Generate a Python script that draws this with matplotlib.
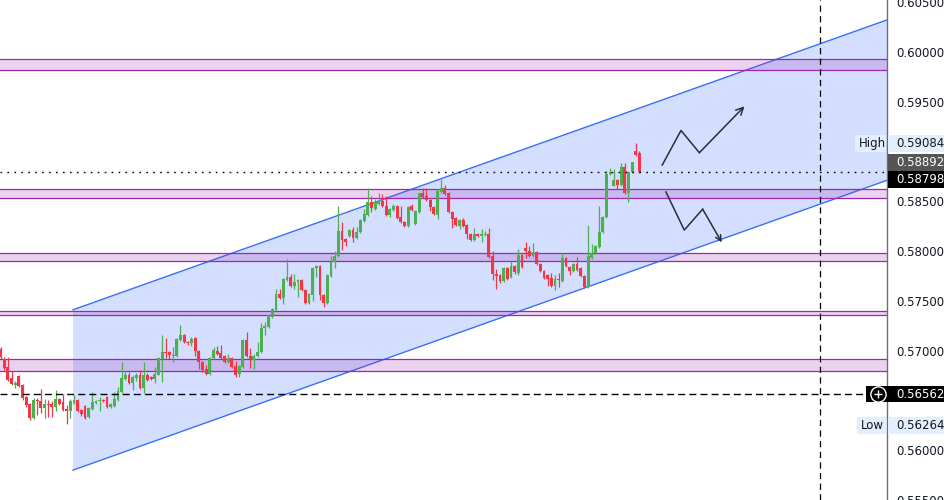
import matplotlib
matplotlib.use("Agg")
import matplotlib.pyplot as plt
import matplotlib.transforms as mtransforms
from matplotlib.patches import Rectangle, Polygon

# OHLC candles, left to right
OPEN = [
    0.5702, 0.5692, 0.5684, 0.5672, 0.5665, 0.5674, 0.5665, 0.5653, 0.5646, 0.5632,
    0.5650, 0.5649, 0.5642, 0.5646, 0.5646, 0.5643, 0.5651, 0.5648, 0.5641, 0.5639,
    0.5647, 0.5650, 0.5640, 0.5644, 0.5633, 0.5641, 0.5647, 0.5649, 0.5650, 0.5653,
    0.5643, 0.5644, 0.5650, 0.5658, 0.5671, 0.5675, 0.5667, 0.5672, 0.5675, 0.5662,
    0.5675, 0.5673, 0.5671, 0.5676, 0.5692, 0.5699, 0.5699, 0.5695, 0.5695, 0.5711,
    0.5716, 0.5709, 0.5708, 0.5713, 0.5700, 0.5689, 0.5682, 0.5677, 0.5693, 0.5700,
    0.5698, 0.5695, 0.5689, 0.5693, 0.5685, 0.5677, 0.5684, 0.5711, 0.5695, 0.5691,
    0.5695, 0.5699, 0.5723, 0.5724, 0.5734, 0.5741, 0.5757, 0.5753, 0.5771, 0.5774,
    0.5765, 0.5769, 0.5771, 0.5761, 0.5748, 0.5756, 0.5783, 0.5785, 0.5756, 0.5748,
    0.5775, 0.5789, 0.5795, 0.5820, 0.5812, 0.5815, 0.5821, 0.5813, 0.5819, 0.5830,
    0.5836, 0.5849, 0.5842, 0.5847, 0.5850, 0.5845, 0.5836, 0.5841, 0.5845, 0.5834,
    0.5829, 0.5825, 0.5845, 0.5827, 0.5839, 0.5858, 0.5855, 0.5851, 0.5844, 0.5836,
    0.5859, 0.5863, 0.5858, 0.5839, 0.5833, 0.5825, 0.5831, 0.5826, 0.5817, 0.5811,
    0.5817, 0.5815, 0.5816, 0.5817, 0.5795, 0.5777, 0.5776, 0.5770, 0.5783, 0.5774,
    0.5785, 0.5778, 0.5796, 0.5803, 0.5800, 0.5795, 0.5799, 0.5787, 0.5780, 0.5776,
    0.5773, 0.5765, 0.5772, 0.5770, 0.5793, 0.5784, 0.5780, 0.5787, 0.5783, 0.5775,
    0.5764, 0.5793, 0.5798, 0.5804, 0.5819, 0.5834, 0.5877, 0.5865, 0.5871, 0.5866,
    0.5884, 0.5858, 0.5879, 0.5900, 0.5898,
]
HIGH = [
    0.5704, 0.5694, 0.5694, 0.5680, 0.5669, 0.5675, 0.5666, 0.5654, 0.5647, 0.5652,
    0.5652, 0.5661, 0.5651, 0.5650, 0.5649, 0.5660, 0.5652, 0.5656, 0.5645, 0.5651,
    0.5655, 0.5651, 0.5641, 0.5645, 0.5643, 0.5658, 0.5650, 0.5653, 0.5651, 0.5654,
    0.5647, 0.5658, 0.5663, 0.5689, 0.5680, 0.5679, 0.5675, 0.5678, 0.5681, 0.5689,
    0.5678, 0.5674, 0.5684, 0.5694, 0.5716, 0.5713, 0.5700, 0.5704, 0.5713, 0.5726,
    0.5717, 0.5710, 0.5714, 0.5714, 0.5701, 0.5690, 0.5686, 0.5694, 0.5704, 0.5705,
    0.5706, 0.5696, 0.5697, 0.5694, 0.5690, 0.5686, 0.5712, 0.5719, 0.5703, 0.5697,
    0.5709, 0.5728, 0.5729, 0.5737, 0.5743, 0.5762, 0.5762, 0.5773, 0.5792, 0.5777,
    0.5777, 0.5772, 0.5772, 0.5762, 0.5758, 0.5784, 0.5786, 0.5786, 0.5757, 0.5777,
    0.5795, 0.5800, 0.5845, 0.5829, 0.5813, 0.5822, 0.5824, 0.5824, 0.5832, 0.5842,
    0.5863, 0.5855, 0.5852, 0.5858, 0.5857, 0.5855, 0.5843, 0.5847, 0.5846, 0.5845,
    0.5830, 0.5845, 0.5847, 0.5841, 0.5858, 0.5863, 0.5863, 0.5853, 0.5845, 0.5862,
    0.5872, 0.5866, 0.5859, 0.5840, 0.5834, 0.5832, 0.5833, 0.5827, 0.5818, 0.5823,
    0.5818, 0.5822, 0.5820, 0.5823, 0.5800, 0.5782, 0.5777, 0.5784, 0.5784, 0.5790,
    0.5786, 0.5802, 0.5797, 0.5809, 0.5805, 0.5808, 0.5800, 0.5788, 0.5781, 0.5777,
    0.5778, 0.5776, 0.5778, 0.5798, 0.5794, 0.5785, 0.5788, 0.5794, 0.5784, 0.5776,
    0.5826, 0.5807, 0.5806, 0.5845, 0.5835, 0.5880, 0.5883, 0.5882, 0.5872, 0.5888,
    0.5888, 0.5880, 0.5889, 0.59084, 0.5900,
]
LOW = [
    0.5692, 0.5681, 0.5669, 0.5665, 0.5662, 0.5663, 0.5650, 0.5643, 0.5630, 0.5631,
    0.5635, 0.5637, 0.5632, 0.5633, 0.5633, 0.5639, 0.5645, 0.5639, 0.56264, 0.5632,
    0.5646, 0.5638, 0.5634, 0.5631, 0.5632, 0.5640, 0.5646, 0.5639, 0.5648, 0.5642,
    0.5642, 0.5643, 0.5649, 0.5657, 0.5670, 0.5666, 0.5660, 0.5669, 0.5661, 0.5657,
    0.5669, 0.5670, 0.5667, 0.5675, 0.5668, 0.5693, 0.5692, 0.5689, 0.5694, 0.5710,
    0.5708, 0.5706, 0.5705, 0.5695, 0.5682, 0.5679, 0.5676, 0.5676, 0.5692, 0.5696,
    0.5692, 0.5688, 0.5688, 0.5683, 0.5673, 0.5673, 0.5683, 0.5694, 0.5683, 0.5682,
    0.5694, 0.5698, 0.5716, 0.5723, 0.5733, 0.5740, 0.5752, 0.5747, 0.5770, 0.5764,
    0.5762, 0.5754, 0.5760, 0.5747, 0.5747, 0.5750, 0.5774, 0.5751, 0.5744, 0.5747,
    0.5774, 0.5783, 0.5794, 0.5801, 0.5805, 0.5814, 0.5809, 0.5812, 0.5818, 0.5829,
    0.5835, 0.5839, 0.5841, 0.5846, 0.5844, 0.5835, 0.5834, 0.5840, 0.5832, 0.5828,
    0.5824, 0.5824, 0.5840, 0.5826, 0.5838, 0.5853, 0.5850, 0.5840, 0.5836, 0.5832,
    0.5858, 0.5856, 0.5838, 0.5823, 0.5825, 0.5822, 0.5824, 0.5812, 0.5810, 0.5810,
    0.5814, 0.5809, 0.5815, 0.5793, 0.5771, 0.5762, 0.5768, 0.5769, 0.5771, 0.5773,
    0.5777, 0.5776, 0.5783, 0.5793, 0.5794, 0.5794, 0.5786, 0.5779, 0.5772, 0.5765,
    0.5764, 0.5761, 0.5764, 0.5769, 0.5784, 0.5776, 0.5779, 0.5780, 0.5774, 0.5763,
    0.5763, 0.5792, 0.5797, 0.5803, 0.5818, 0.5833, 0.5876, 0.5865, 0.5862, 0.5865,
    0.5857, 0.5849, 0.5878, 0.5895, 0.5878,
]
CLOSE = [
    0.5694, 0.5683, 0.5670, 0.5666, 0.5667, 0.5664, 0.5652, 0.5645, 0.5632, 0.5650,
    0.5649, 0.5642, 0.5646, 0.5645, 0.5643, 0.5651, 0.5646, 0.5640, 0.5639, 0.5649,
    0.5650, 0.5639, 0.5636, 0.5632, 0.5642, 0.5648, 0.5649, 0.5650, 0.5649, 0.5643,
    0.5646, 0.5651, 0.5659, 0.5672, 0.5676, 0.5667, 0.5673, 0.5675, 0.5662, 0.5676,
    0.5670, 0.5671, 0.5677, 0.5693, 0.5699, 0.5698, 0.5696, 0.5696, 0.5712, 0.5716,
    0.5709, 0.5708, 0.5712, 0.5700, 0.5689, 0.5681, 0.5677, 0.5693, 0.5701, 0.5697,
    0.5693, 0.5689, 0.5693, 0.5684, 0.5676, 0.5685, 0.5711, 0.5695, 0.5692, 0.5695,
    0.5699, 0.5723, 0.5725, 0.5736, 0.5742, 0.5757, 0.5753, 0.5772, 0.5774, 0.5765,
    0.5769, 0.5771, 0.5761, 0.5748, 0.5757, 0.5783, 0.5785, 0.5756, 0.5748, 0.5776,
    0.5789, 0.5795, 0.5820, 0.5811, 0.5809, 0.5821, 0.5813, 0.5819, 0.5831, 0.5837,
    0.5849, 0.5843, 0.5849, 0.5850, 0.5845, 0.5836, 0.5842, 0.5845, 0.5833, 0.5829,
    0.5825, 0.5844, 0.5841, 0.5840, 0.5858, 0.5854, 0.5851, 0.5844, 0.5837, 0.5860,
    0.5863, 0.5857, 0.5839, 0.5832, 0.5826, 0.5831, 0.5825, 0.5817, 0.5811, 0.5817,
    0.5815, 0.5817, 0.5817, 0.5794, 0.5777, 0.5775, 0.5770, 0.5783, 0.5772, 0.5785,
    0.5779, 0.5796, 0.5784, 0.5800, 0.5795, 0.5799, 0.5787, 0.5780, 0.5773, 0.5772,
    0.5765, 0.5772, 0.5771, 0.5793, 0.5785, 0.5780, 0.5787, 0.5781, 0.5775, 0.5764,
    0.5795, 0.5798, 0.5805, 0.5819, 0.5834, 0.5877, 0.5879, 0.5871, 0.5866, 0.5884,
    0.5858, 0.5879, 0.5889, 0.5896, 0.58798,
]

# rising channel (bar index, price)
CHANNEL_X = [19.75, 241.4]
CHANNEL_UPPER = [0.5741, 0.6032]
CHANNEL_LOWER = [0.5580, 0.5871]

# support / resistance zones
ZONE_TOP = [0.59927, 0.58620, 0.57980, 0.57397, 0.56920]
ZONE_BOTTOM = [0.59817, 0.58537, 0.57897, 0.57353, 0.56797]

# scenario arrows
UP_PATH_X = [180.2, 185.3, 190.3, 202.6]
UP_PATH_Y = [0.58863, 0.59210, 0.58987, 0.59453]
DOWN_PATH_X = [181.2, 186.2, 191.2, 196.4]
DOWN_PATH_Y = [0.58593, 0.58210, 0.58420, 0.58087]

YTICKS = [0.555, 0.560, 0.565, 0.570, 0.575, 0.580, 0.585, 0.590, 0.595, 0.600, 0.605]
HIDDEN_TICKS = [0.565, 0.590]  # covered by price labels in the original
LAST_PRICE = 0.58798
BID_PRICE = 0.58892
HIGH_PRICE = 0.59084
LOW_PRICE = 0.56264
CROSS_PRICE = 0.56562
TIME_MARK = 223.2

UP_COLOR = "#4caf50"
DOWN_COLOR = "#f23645"
W, H = 949, 500

fig = plt.figure(figsize=(W / 100, H / 100), dpi=100)
ax = fig.add_axes([0, 0, 887 / W, 1])
ax.set_xlim(-0.14, 241.4)
ax.set_ylim(0.5552, 0.6052)

# channel
poly = Polygon([(CHANNEL_X[0], CHANNEL_UPPER[0]), (CHANNEL_X[1], CHANNEL_UPPER[1]),
                (CHANNEL_X[1], CHANNEL_LOWER[1]), (CHANNEL_X[0], CHANNEL_LOWER[0])],
               closed=True, facecolor=(41 / 255, 98 / 255, 1, 0.2), edgecolor="none", zorder=1)
ax.add_patch(poly)
ax.plot(CHANNEL_X, CHANNEL_UPPER, color="#3a70f7", lw=1.0, zorder=1.2)
ax.plot(CHANNEL_X, CHANNEL_LOWER, color="#3a70f7", lw=1.0, zorder=1.2)

# zones
for top, bottom in zip(ZONE_TOP, ZONE_BOTTOM):
    ax.axhspan(bottom, top, facecolor=(156 / 255, 39 / 255, 176 / 255, 0.2),
               edgecolor="none", zorder=1.5)
    ax.axhline(top, color="#9c27b0", lw=0.9, zorder=1.6)
    ax.axhline(bottom, color="#9c27b0", lw=0.9, zorder=1.6)

# candles
xs = list(range(len(CLOSE)))
colors = [UP_COLOR if c >= o else DOWN_COLOR for o, c in zip(OPEN, CLOSE)]
ax.vlines(xs, LOW, HIGH, colors=colors, lw=0.9, zorder=3)
bottoms = [min(o, c) for o, c in zip(OPEN, CLOSE)]
heights = [max(abs(c - o), 0.00009) for o, c in zip(OPEN, CLOSE)]
ax.bar(xs, heights, bottom=bottoms, width=0.78, color=colors, linewidth=0, zorder=3.1)

# reference lines
ax.plot([-0.14, 236.8], [CROSS_PRICE, CROSS_PRICE], color="black", lw=1.0,
        linestyle=(0, (5, 3)), zorder=4)
ax.axhline(LAST_PRICE, color="black", lw=1.0, linestyle=(0, (1.2, 3.8)), zorder=4)
ax.axvline(TIME_MARK, color="black", lw=0.9, linestyle=(0, (5, 3.5)), zorder=4)

# arrows
arrow_color = "#2a2e39"
ax.plot(UP_PATH_X[:3], UP_PATH_Y[:3], color=arrow_color, lw=1.1, zorder=5)
ax.annotate("", xy=(UP_PATH_X[3], UP_PATH_Y[3]), xytext=(UP_PATH_X[2], UP_PATH_Y[2]),
            arrowprops=dict(arrowstyle="->", color=arrow_color, lw=1.1,
                            mutation_scale=13, shrinkA=0, shrinkB=0), zorder=5)
ax.plot(DOWN_PATH_X[:3], DOWN_PATH_Y[:3], color=arrow_color, lw=1.1, zorder=5)
ax.annotate("", xy=(DOWN_PATH_X[3], DOWN_PATH_Y[3]), xytext=(DOWN_PATH_X[2], DOWN_PATH_Y[2]),
            arrowprops=dict(arrowstyle="->", color=arrow_color, lw=1.1,
                            mutation_scale=10, shrinkA=0, shrinkB=0), zorder=5)

# price axis
for side in ("left", "top", "bottom"):
    ax.spines[side].set_visible(False)
ax.spines["right"].set_color("#6f6f6f")
ax.spines["right"].set_linewidth(1.0)
ax.set_xticks([])
ax.yaxis.tick_right()
ax.set_yticks(YTICKS)
ax.set_yticklabels(["" if t in HIDDEN_TICKS else f"{t:.5f}" for t in YTICKS])
ax.tick_params(axis="y", length=0, pad=6.5, labelsize=8.5, labelcolor="#131722")

trans = mtransforms.blended_transform_factory(fig.transFigure, ax.transData)
BOX_H = 0.0017


def price_box(x0, x1, yc, face, text, color, text_x=896):
    rect = Rectangle((x0 / W, yc - BOX_H / 2), (x1 - x0) / W, BOX_H, transform=trans,
                     facecolor=face, edgecolor="none", clip_on=False, zorder=20)
    ax.add_artist(rect)
    ax.text(text_x / W, yc, text, transform=trans, ha="left", va="center",
            fontsize=8.5, color=color, clip_on=False, zorder=21)


price_box(888, 944, HIGH_PRICE - 0.00005, "#e3effd", f"{HIGH_PRICE:.5f}", "#131722")
price_box(855, 886, HIGH_PRICE - 0.00005, "#e3effd", "High", "#131722", text_x=859)
price_box(888, 944, BID_PRICE, "#555555", f"{BID_PRICE:.5f}", "white")
price_box(888, 944, LAST_PRICE - 0.00078, "#000000", f"{LAST_PRICE:.5f}", "white")
price_box(866, 944, CROSS_PRICE + 0.00002, "#000000", f"{CROSS_PRICE:.5f}", "white")
price_box(888, 944, LOW_PRICE - 0.00015, "#e3effd", f"{LOW_PRICE:.5f}", "#131722")
price_box(857, 886, LOW_PRICE - 0.00015, "#e3effd", "Low", "#131722", text_x=861)

# crosshair "+" icon on the black label
ax.plot([877.5 / W], [CROSS_PRICE + 0.00002], transform=trans, marker="o", ms=11,
        mfc="none", mec="white", mew=1.0, clip_on=False, zorder=22)
ax.plot([877.5 / W], [CROSS_PRICE + 0.00002], transform=trans, marker="+", ms=6,
        mec="white", mew=1.0, clip_on=False, zorder=22)

fig.savefig("out.png", dpi=100)
